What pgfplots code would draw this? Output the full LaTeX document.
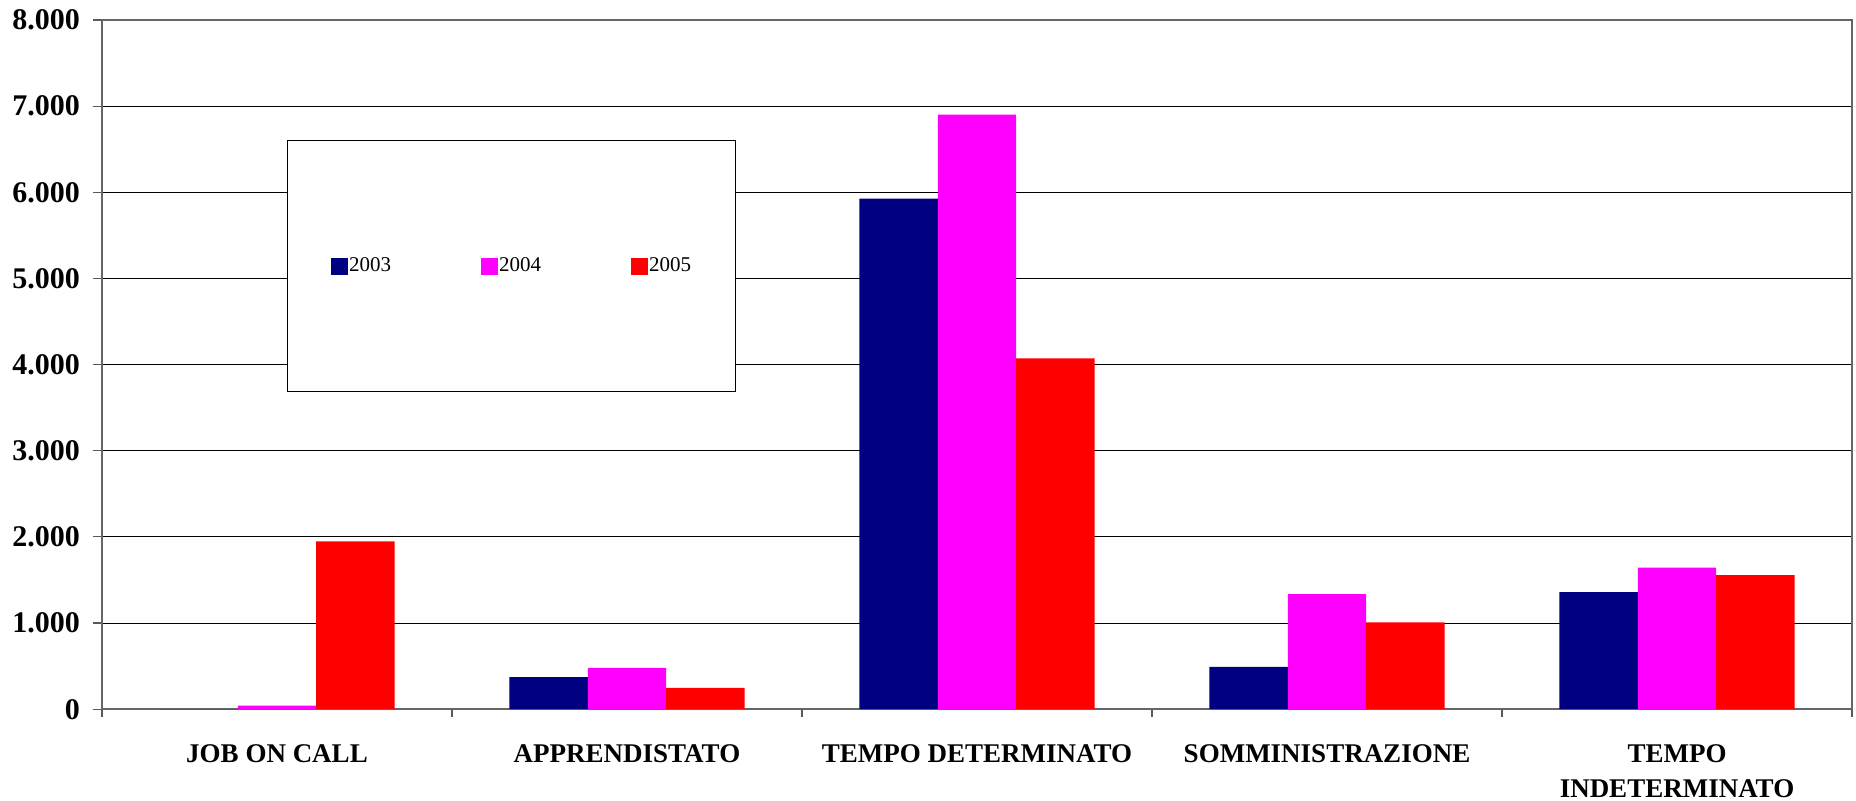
\documentclass[border=0pt]{standalone}
\usepackage{fontspec}
\setmainfont{Liberation Serif}
\usepackage{pgfplots}
\pgfplotsset{compat=1.18}

\definecolor{c2003}{RGB}{0,0,128}
\definecolor{c2004}{RGB}{255,0,255}
\definecolor{c2005}{RGB}{255,0,0}

\pgfplotsset{
  sqlegend/.style={legend image code/.code={\fill[##1] (0pt,-4.25pt) rectangle (8.5pt,4.25pt);}},
}

\begin{document}
\begin{tikzpicture}
\begin{axis}[
  scale only axis,
  width=875pt, height=344.6pt,
  ybar=0pt, bar width=0.224,
  xmin=-0.5, xmax=4.5,
  ymin=0, ymax=8000,
  ytick={0,1000,...,8000},
  yticklabels={0,1.000,2.000,3.000,4.000,5.000,6.000,7.000,8.000},
  xtick={0,...,4},
  xticklabels={JOB ON CALL,APPRENDISTATO,TEMPO DETERMINATO,SOMMINISTRAZIONE,{TEMPO\\INDETERMINATO}},
  minor xtick={-0.5,0.5,...,4.5},
  major x tick style={draw=none},
  tick align=outside,
  tick pos=left,
  major tick length=4.5pt,
  minor tick length=4pt,
  tick style={black!65, line width=0.6pt},
  ymajorgrids,
  grid style={black, line width=0.5pt},
  axis line style={black!60, line width=1pt},
  /pgf/number format/assume math mode=true,
  yticklabel style={font=\bfseries\fontsize{15}{15}\selectfont, inner sep=0pt, xshift=-6.3pt},
  xticklabel style={font=\bfseries\fontsize{13.5}{17.5}\selectfont, align=center, inner sep=0pt, yshift=-13pt},
  legend columns=3,
  legend style={
    at={(axis description cs:0.1057,0.826)}, anchor=north west,
    draw=black, line width=0.6pt, fill=white,
    minimum width=224pt, minimum height=125.5pt,
    font=\fontsize{10.5}{12}\selectfont,
    nodes={inner sep=0.75pt, minimum width=0pt, minimum height=0pt},
    /tikz/every even column/.append style={column sep=44pt},
  },
]
\addplot[fill=c2003, draw=none, sqlegend] coordinates {(0,0) (1,372) (2,5927) (3,492) (4,1360)};
\addplot[fill=c2004, draw=none, sqlegend] coordinates {(0,40) (1,480) (2,6903) (3,1337) (4,1643)};
\addplot[fill=c2005, draw=none, sqlegend] coordinates {(0,1949) (1,247) (2,4073) (3,1008) (4,1555)};
\legend{2003,2004,2005}
\coordinate (sw) at (rel axis cs:0,0);
\coordinate (ne) at (rel axis cs:1,1);
\end{axis}
\pgfresetboundingbox
\path ([xshift=-51pt,yshift=-45.85pt]sw) rectangle ([xshift=2pt,yshift=10pt]ne);
\end{tikzpicture}
\end{document}
